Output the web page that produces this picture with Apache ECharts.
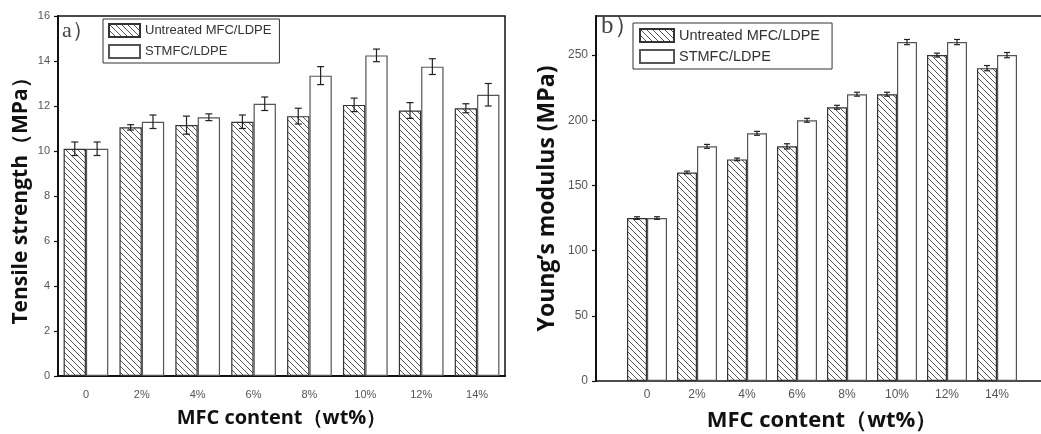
<!DOCTYPE html>
<html>
<head>
<meta charset="utf-8">
<script src="https://cdn.jsdelivr.net/npm/echarts@6/dist/echarts.min.js"></script>
<style>html,body{margin:0;padding:0;background:#fff}#c{width:1041px;height:434px}</style>
</head>
<body>
<div id="c"></div>
<script>
const categories = ['0','2%','4%','6%','8%','10%','12%','14%'];
const seriesNames = ['Untreated MFC/LDPE','STMFC/LDPE'];
// a) Tensile strength (MPa)
const tsUntreated    = [10.1, 11.05, 11.15, 11.3, 11.55, 12.05, 11.8, 11.9];
const tsUntreatedErr = [0.3, 0.12, 0.4, 0.3, 0.35, 0.3, 0.35, 0.2];
const tsSTMFC        = [10.1, 11.3, 11.5, 12.1, 13.35, 14.25, 13.75, 12.5];
const tsSTMFCErr     = [0.3, 0.3, 0.15, 0.3, 0.4, 0.28, 0.35, 0.5];
// b) Young's modulus (MPa)
const ymUntreated    = [125, 160, 170, 180, 210, 220, 250, 240];
const ymUntreatedErr = [1, 1, 1, 2, 1.5, 1.5, 1.5, 2];
const ymSTMFC        = [125, 180, 190, 200, 220, 260, 260, 250];
const ymSTMFCErr     = [1, 1.5, 1.5, 1.5, 1.5, 2, 2, 2];

function hatch(){
  const s = 6, c = document.createElement('canvas');
  c.width = s; c.height = s;
  const g = c.getContext('2d');
  g.fillStyle = '#fff'; g.fillRect(0,0,s,s);
  g.strokeStyle = '#555'; g.lineWidth = 1;
  g.beginPath();
  g.moveTo(-1,-1); g.lineTo(s+1,s+1);
  g.moveTo(-1,s-1); g.lineTo(1,s+1);
  g.moveTo(s-1,-1); g.lineTo(s+1,1);
  g.stroke();
  return c;
}
const hatchFill = {image: hatch(), repeat: 'repeat'};

const chart = echarts.init(document.getElementById('c'), null, {renderer:'canvas'});

const tickFont = {fontFamily:'Liberation Sans', fontSize:11, color:'#555'};
const titleFont = {fontFamily:'Open Sans', fontWeight:'bold', color:'#111'};

function errSeries(gi, vals, errs, side, cap){
  return {
    type:'custom', xAxisIndex:gi, yAxisIndex:gi, z:5, silent:true,
    data: vals.map((v,i)=>[i, v, errs[i]]),
    renderItem(params, api){
      const i = api.value(0), v = api.value(1), e = api.value(2);
      const band = api.size([1,0])[0];
      const bw = band*0.8/2;
      const top = api.coord([i, v+e]), bot = api.coord([i, v-e]);
      const x = top[0] + side*bw/2;
      const st = {stroke:'#222', lineWidth:1.2};
      return {type:'group', children:[
        {type:'line', shape:{x1:x,y1:top[1],x2:x,y2:bot[1]}, style:st},
        {type:'line', shape:{x1:x-cap,y1:top[1],x2:x+cap,y2:top[1]}, style:st},
        {type:'line', shape:{x1:x-cap,y1:bot[1],x2:x+cap,y2:bot[1]}, style:st}
      ]};
    }
  };
}

const option = {
  animation:false,
  backgroundColor:'#fff',
  grid:[
    {left:58, top:16, width:447, height:360, show:true, borderColor:'#111', borderWidth:1.5, backgroundColor:'transparent', outerBoundsMode:'none', containLabel:false},
    {left:622, top:16, width:400, height:365, outerBoundsMode:'none', containLabel:false},
    {left:596, top:16, width:480, height:365, show:true, borderColor:'#111', borderWidth:1.5, backgroundColor:'transparent', outerBoundsMode:'none', containLabel:false}
  ],
  legend:[
    {data:seriesNames.map(n=>({name:n, icon:'rect'})), orient:'vertical', left:103, top:19, padding:[4,8,4,5],
     borderColor:'#333', borderWidth:1, itemWidth:31, itemHeight:13, itemGap:6,
     textStyle:{fontFamily:'Liberation Sans', fontSize:13, color:'#333', lineHeight:14},
     selectedMode:false},
    {data:[{name:seriesNames[0]+' ', icon:'rect'},{name:seriesNames[1]+' ', icon:'rect'}], orient:'vertical', left:633, top:23, padding:[5,8,5,6],
     borderColor:'#333', borderWidth:1, itemWidth:34, itemHeight:13, itemGap:6,
     textStyle:{fontFamily:'Liberation Sans', fontSize:14.5, color:'#333', lineHeight:14},
     selectedMode:false}
  ],
  xAxis:[
    {type:'category', gridIndex:0, data:categories,
     axisLine:{lineStyle:{color:'#111', width:2}}, axisTick:{show:false},
     axisLabel:Object.assign({margin:13}, tickFont),
     name:'MFC content（wt%）', nameLocation:'middle', nameGap:32,
     nameTextStyle:Object.assign({fontSize:20}, titleFont)},
    {type:'category', gridIndex:1, data:categories,
     axisLine:{show:false}, axisTick:{show:false},
     axisLabel:Object.assign({margin:8}, tickFont, {fontSize:12}),
     name:'MFC content（wt%）', nameLocation:'middle', nameGap:29,
     nameTextStyle:Object.assign({fontSize:22}, titleFont)},
    {type:'value', gridIndex:2, show:false, min:0, max:1}
  ],
  yAxis:[
    {type:'value', gridIndex:0, min:0, max:16, interval:2,
     axisLine:{show:true, lineStyle:{color:'#111', width:2}},
     axisTick:{show:true, inside:false, length:4, lineStyle:{color:'#111', width:1.2}},
     splitLine:{show:false},
     axisLabel:Object.assign({margin:8}, tickFont),
     name:'Tensile strength（MPa）', nameLocation:'middle', nameGap:26,
     nameTextStyle:Object.assign({fontSize:21}, titleFont)},
    {type:'value', gridIndex:1, min:0, max:280, interval:50, offset:26,
     axisLine:{show:true, lineStyle:{color:'#111', width:2}},
     axisTick:{show:true, inside:false, length:4, lineStyle:{color:'#111', width:1.2}},
     splitLine:{show:false},
     axisLabel:Object.assign({margin:8, showMaxLabel:false}, tickFont, {fontSize:12}),
     name:'Young’s modulus (MPa)', nameLocation:'middle', nameGap:37,
     nameTextStyle:Object.assign({fontSize:23}, titleFont)},
    {type:'value', gridIndex:2, show:false, min:0, max:1}
  ],
  graphic:[
    {type:'text', left:62, top:20, style:{text:'a）', font:'22px "Liberation Serif"', fill:'#444'}},
    {type:'text', left:601, top:14, style:{text:'b）', font:'25px "Liberation Serif"', fill:'#444'}}
  ],
  series:[
    {name:seriesNames[0], type:'bar', xAxisIndex:0, yAxisIndex:0, data:tsUntreated, barGap:'0%', barCategoryGap:'20%',
     itemStyle:{color:hatchFill, borderColor:'#333', borderWidth:1.2}},
    {name:seriesNames[1], type:'bar', xAxisIndex:0, yAxisIndex:0, data:tsSTMFC, barGap:'0%', barCategoryGap:'20%',
     itemStyle:{color:'#fff', borderColor:'#555', borderWidth:1.2}},
    errSeries(0, tsUntreated, tsUntreatedErr, -1, 3.5),
    errSeries(0, tsSTMFC, tsSTMFCErr, 1, 3.5),
    {name:seriesNames[0]+' ', type:'bar', xAxisIndex:1, yAxisIndex:1, data:ymUntreated, barGap:'0%', barCategoryGap:'20%',
     itemStyle:{color:hatchFill, borderColor:'#333', borderWidth:1.2}},
    {name:seriesNames[1]+' ', type:'bar', xAxisIndex:1, yAxisIndex:1, data:ymSTMFC, barGap:'0%', barCategoryGap:'20%',
     itemStyle:{color:'#fff', borderColor:'#555', borderWidth:1.2}},
    errSeries(1, ymUntreated, ymUntreatedErr, -1, 3),
    errSeries(1, ymSTMFC, ymSTMFCErr, 1, 3)
  ]
};
chart.setOption(option);
</script>
</body>
</html>
